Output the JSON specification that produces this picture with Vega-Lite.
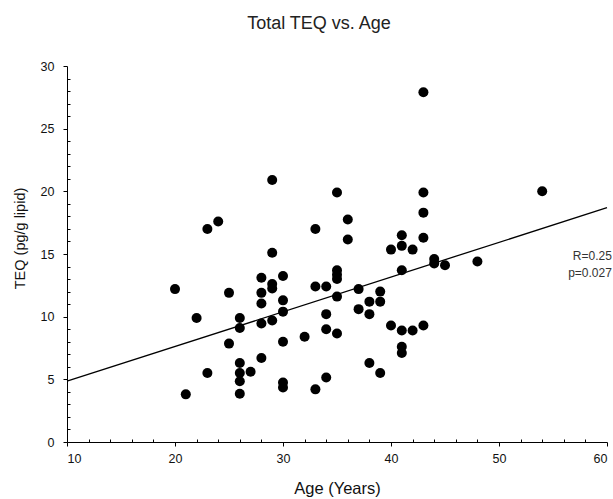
{
  "$schema": "https://vega.github.io/schema/vega-lite/v6.json",
  "width": 540,
  "height": 376,
  "autosize": {"type": "none"},
  "padding": {"left": 67, "top": 66, "right": 6, "bottom": 57},
  "background": "white",
  "title": {"text": "Total TEQ vs. Age", "fontSize": 18, "fontWeight": "normal", "font": "Liberation Sans", "color": "#222", "offset": 27, "dx": -18},
  "config": {
    "view": {"stroke": null},
    "axis": {"grid": false, "domainColor": "#000", "tickColor": "#000", "labelFont": "Liberation Sans", "labelFontSize": 12.5, "labelColor": "#111", "titleFont": "Liberation Sans", "titleFontWeight": "normal", "titleColor": "#111"}
  },
  "datasets": {
    "pts": [
      {"age": 20, "teq": 12.2}, {"age": 21, "teq": 3.8}, {"age": 22, "teq": 9.9}, {"age": 23, "teq": 17.0}, {"age": 23, "teq": 5.5},
      {"age": 24, "teq": 17.6}, {"age": 25, "teq": 11.9}, {"age": 25, "teq": 7.85}, {"age": 26, "teq": 9.9}, {"age": 26, "teq": 9.1},
      {"age": 26, "teq": 6.3}, {"age": 26, "teq": 5.5}, {"age": 26, "teq": 4.85}, {"age": 26, "teq": 3.85}, {"age": 27, "teq": 5.6},
      {"age": 28, "teq": 13.1}, {"age": 28, "teq": 11.9}, {"age": 28, "teq": 11.05}, {"age": 28, "teq": 9.45}, {"age": 28, "teq": 6.7},
      {"age": 29, "teq": 20.9}, {"age": 29, "teq": 15.1}, {"age": 29, "teq": 12.6}, {"age": 29, "teq": 12.25}, {"age": 29, "teq": 9.7},
      {"age": 30, "teq": 13.25}, {"age": 30, "teq": 11.3}, {"age": 30, "teq": 10.4}, {"age": 30, "teq": 8.0}, {"age": 30, "teq": 4.75},
      {"age": 30, "teq": 4.35}, {"age": 32, "teq": 8.4}, {"age": 33, "teq": 17.0}, {"age": 33, "teq": 12.4}, {"age": 33, "teq": 4.2},
      {"age": 34, "teq": 12.4}, {"age": 34, "teq": 10.2}, {"age": 34, "teq": 9.0}, {"age": 34, "teq": 5.15}, {"age": 35, "teq": 19.9},
      {"age": 35, "teq": 13.7}, {"age": 35, "teq": 13.35}, {"age": 35, "teq": 13.0}, {"age": 35, "teq": 11.6}, {"age": 35, "teq": 8.65},
      {"age": 36, "teq": 17.75}, {"age": 36, "teq": 16.15}, {"age": 37, "teq": 12.2}, {"age": 37, "teq": 10.6}, {"age": 38, "teq": 11.2},
      {"age": 38, "teq": 10.2}, {"age": 38, "teq": 6.3}, {"age": 39, "teq": 12.0}, {"age": 39, "teq": 11.2}, {"age": 39, "teq": 5.5},
      {"age": 40, "teq": 15.35}, {"age": 40, "teq": 9.3}, {"age": 41, "teq": 16.5}, {"age": 41, "teq": 15.65}, {"age": 41, "teq": 13.7},
      {"age": 41, "teq": 8.9}, {"age": 41, "teq": 7.6}, {"age": 41, "teq": 7.1}, {"age": 42, "teq": 15.35}, {"age": 42, "teq": 8.9},
      {"age": 43, "teq": 27.9}, {"age": 43, "teq": 19.9}, {"age": 43, "teq": 18.3}, {"age": 43, "teq": 16.3}, {"age": 43, "teq": 9.3},
      {"age": 44, "teq": 14.6}, {"age": 44, "teq": 14.25}, {"age": 45, "teq": 14.1}, {"age": 48, "teq": 14.4}, {"age": 54, "teq": 20.0}
    ],
    "fit": [{"age": 10, "teq": 4.85}, {"age": 60, "teq": 18.7}],
    "notes": [{"age": 60.45, "teq": 14.85, "label": "R=0.25"}, {"age": 60.45, "teq": 13.45, "label": "p=0.027"}]
  },
  "resolve": {"axis": {"x": "independent", "y": "independent"}},
  "layer": [
    {
      "data": {"name": "pts"},
      "mark": {"type": "circle", "size": 100, "color": "#000", "opacity": 1},
      "encoding": {
        "x": {"field": "age", "type": "quantitative", "scale": {"domain": [10, 60], "nice": false, "zero": false},
              "axis": {"orient": "bottom", "title": "Age (Years)", "titleFontSize": 16.5, "values": [10, 20, 30, 40, 50, 60], "tickSize": 4, "labelPadding": 6, "titlePadding": 16}},
        "y": {"field": "teq", "type": "quantitative", "scale": {"domain": [0, 30], "nice": false},
              "axis": {"orient": "left", "title": "TEQ (pg/g lipid)", "titleFontSize": 14.5, "titleY": 172, "values": [0, 5, 10, 15, 20, 25, 30], "tickSize": 4, "labelPadding": 9, "titlePadding": 13}}
      }
    },
    {
      "data": {"name": "fit"},
      "mark": {"type": "line", "color": "#000", "strokeWidth": 1.3},
      "encoding": {
        "x": {"field": "age", "type": "quantitative",
              "axis": {"orient": "bottom", "title": null, "labels": false, "domain": false, "tickSize": -3, "values": [12, 14, 16, 18, 22, 24, 26, 28, 32, 34, 36, 38, 42, 44, 46, 48, 52, 54, 56, 58]}},
        "y": {"field": "teq", "type": "quantitative",
              "axis": {"orient": "left", "title": null, "labels": false, "domain": false, "tickSize": -3, "values": [1, 2, 3, 4, 6, 7, 8, 9, 11, 12, 13, 14, 16, 17, 18, 19, 21, 22, 23, 24, 26, 27, 28, 29]}}
      }
    },
    {
      "data": {"name": "notes"},
      "mark": {"type": "text", "align": "right", "baseline": "middle", "font": "Liberation Sans", "fontSize": 12, "color": "#333"},
      "encoding": {
        "x": {"field": "age", "type": "quantitative", "axis": null},
        "y": {"field": "teq", "type": "quantitative", "axis": null},
        "text": {"field": "label"}
      }
    }
  ]
}
